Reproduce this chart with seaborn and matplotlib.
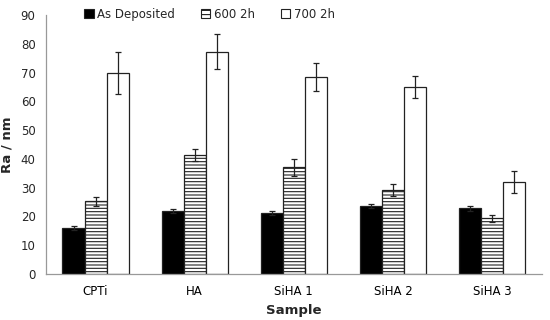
import matplotlib
matplotlib.use("Agg")
import matplotlib.pyplot as plt
import seaborn as sns
import pandas as pd
import numpy as np

samples = ["CPTi", "HA", "SiHA 1", "SiHA 2", "SiHA 3"]
treatments = ["As Deposited", "600 2h", "700 2h"]
as_dep = [15.9, 21.9, 21.1, 23.6, 22.8]
as_dep_err = [0.7, 0.6, 0.7, 0.8, 0.8]
t600 = [25.3, 41.2, 37.1, 29.2, 19.3]
t600_err = [1.6, 2.1, 3.0, 2.0, 1.2]
t700 = [69.7, 77.2, 68.4, 64.9, 32.0]
t700_err = [7.3, 6.1, 4.8, 3.9, 3.9]

rows = []
for vals, errs, t in [(as_dep, as_dep_err, treatments[0]), (t600, t600_err, treatments[1]), (t700, t700_err, treatments[2])]:
    for s, v, e in zip(samples, vals, errs):
        rows.append({"Sample": s, "Treatment": t, "Ra": v, "err": e})
df = pd.DataFrame(rows)

sns.set_style("white")
plt.rcParams['font.family'] = ['DejaVu Sans']
plt.rcParams['hatch.linewidth'] = 0.8
plt.rcParams['hatch.color'] = "#222222"

fig = plt.figure(figsize=(5.5, 3.2), dpi=100)
ax = fig.add_axes([0.0836, 0.144, 0.9014, 0.809])

palette = {"As Deposited": "black", "600 2h": "white", "700 2h": "white"}
sns.barplot(data=df, x="Sample", y="Ra", hue="Treatment", order=samples, hue_order=treatments,
            palette=palette, width=0.667, edgecolor="#222222", linewidth=0.9, errorbar=None,
            saturation=1, ax=ax, legend=False)

for i, t in enumerate(treatments):
    cont = ax.containers[i]
    sub = df[df.Treatment == t].set_index("Sample").loc[samples]
    xs = [p.get_x() + p.get_width() / 2 for p in cont.patches]
    if t == "600 2h":
        for p in cont.patches:
            p.set_hatch("-----")
    ax.errorbar(xs, sub["Ra"].values, yerr=sub["err"].values, fmt="none",
                ecolor="#222222", elinewidth=0.9, capsize=2.5, capthick=0.9)

ax.set_ylim(0, 90)
ax.set_yticks(range(0, 91, 10))
ax.set_xlim(-0.5, len(samples) - 0.5)
ax.set_xticks(np.arange(-0.5, len(samples), 1.0), minor=True)
ax.tick_params(axis="x", which="major", length=0, labelsize=8.5, pad=8, colors="black")
ax.tick_params(axis="x", which="minor", length=4, color="#999999", direction="out")
ax.tick_params(axis="y", length=4, color="#999999", labelsize=8.5, direction="out")
ax.set_xlabel("Sample", fontsize=9.5, fontweight="bold", labelpad=4)
ax.set_ylabel("Ra / nm", fontsize=9.5, fontweight="bold", labelpad=5)

for sp in ["top", "right"]:
    ax.spines[sp].set_visible(False)
for sp in ["left", "bottom"]:
    ax.spines[sp].set_color("#999999")
    ax.spines[sp].set_linewidth(0.9)

from matplotlib.patches import Patch
handles = [
    Patch(facecolor="black", edgecolor="#222222", linewidth=0.8, label=treatments[0]),
    Patch(facecolor="white", edgecolor="#222222", linewidth=0.8, hatch="----", label=treatments[1]),
    Patch(facecolor="white", edgecolor="#222222", linewidth=0.8, label=treatments[2]),
]
ax.legend(handles=handles, loc="center", bbox_to_anchor=(0.33, 1.004), ncol=3, frameon=False,
          fontsize=8.5, handlelength=0.8, handleheight=0.8, handletextpad=0.3,
          columnspacing=2.2, borderaxespad=0)

fig.savefig("out.png", dpi=100)
